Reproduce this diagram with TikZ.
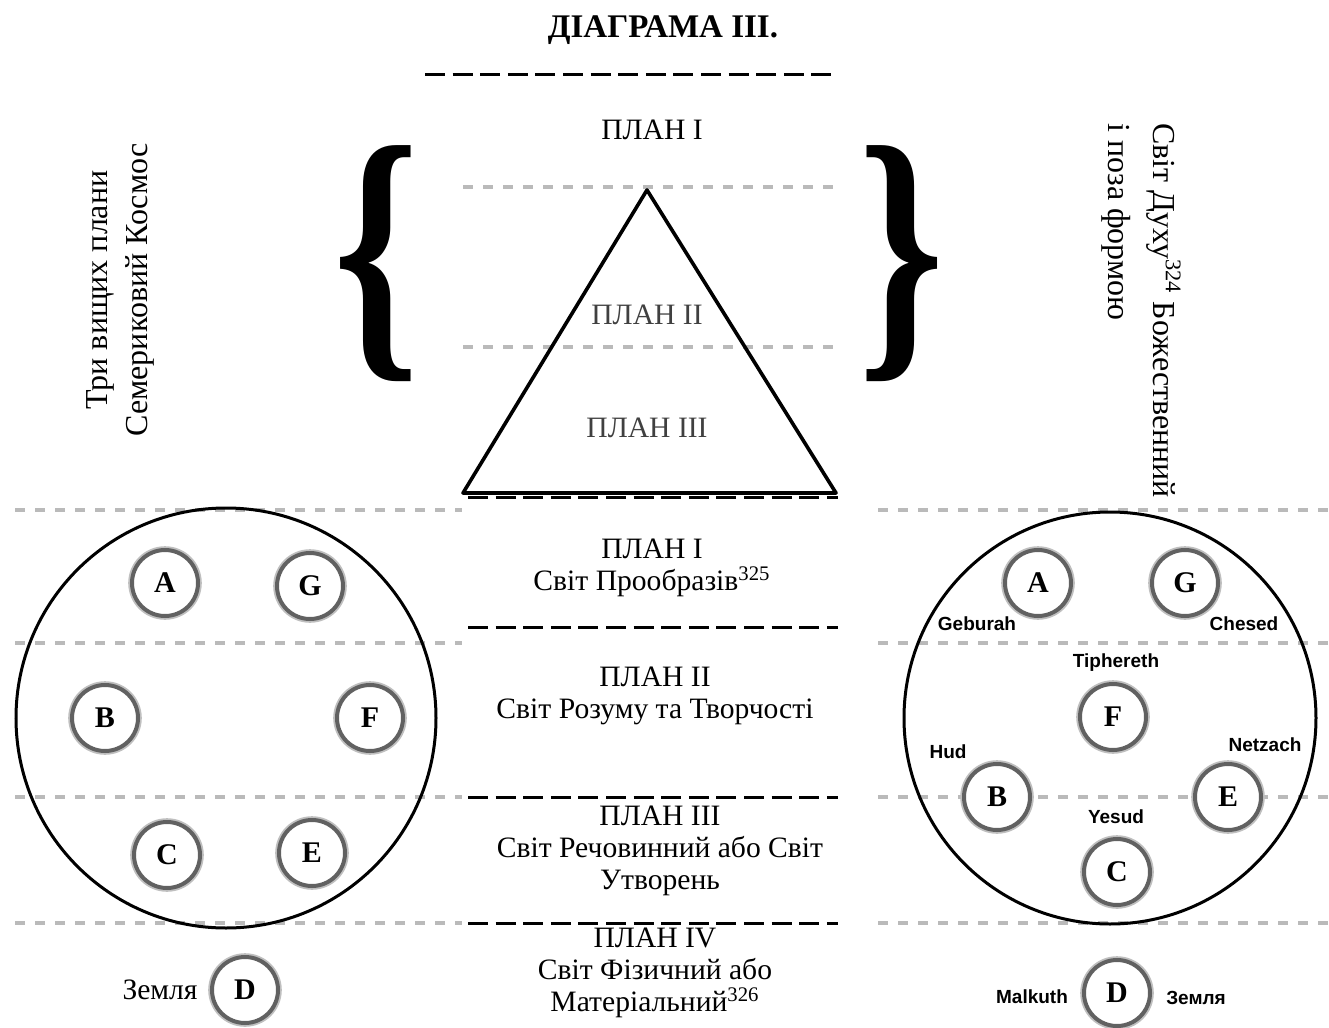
\documentclass[tikz,border=0pt]{standalone}
\usepackage{fontspec}
\setmainfont{Liberation Serif}
\setsansfont{Liberation Sans}
\usepackage{graphicx}
\begin{document}
\begin{tikzpicture}[x=0.5pt,y=-0.5pt,
  txt/.style={inner sep=0pt, align=center, font=\fontsize{14.8}{16}\selectfont},
  lbl/.style={inner sep=0pt, font=\sffamily\bfseries\fontsize{9.5}{11}\selectfont},
  ring/.style={circle, minimum size=33pt, inner sep=0pt, fill=white,
     draw=black!62, line width=2pt,
     preaction={draw=black!25, line width=3.8pt},
     text height=9.8pt, text depth=0pt,
     font=\bfseries\fontsize{15}{15}\selectfont},
  graydash/.style={draw=black!27, line width=1.8pt, dash pattern=on 5pt off 5pt},
  blackdash/.style={draw=black, line width=1.5pt, dash pattern=on 10pt off 3.8pt},
  bigcirc/.style={draw=black, line width=1.5pt},
  bracebox/.style={inner sep=0pt}
]
\useasboundingbox (0,0) rectangle (1329,1028);

% title
\node[inner sep=0pt, font=\bfseries\fontsize{16.5}{18}\selectfont] (title) at (663,30) {ДІАГРАМА ІІІ.};
\coordinate (t1) at (425,74); \coordinate (t2) at (838,74);
\draw[blackdash] (t1) -- (t2);

% gray dashed lines
\coordinate (g1a) at (463,187); \coordinate (g1b) at (838,187);
\coordinate (g2a) at (463,347); \coordinate (g2b) at (838,347);
\draw[graydash] (g1a) -- (g1b);
\draw[graydash] (g2a) -- (g2b);
\foreach \yy/\n in {510/a,643/b,797/c,923/d}{
  \coordinate (L\n1) at (15,\yy); \coordinate (L\n2) at (462,\yy);
  \coordinate (R\n1) at (878,\yy); \coordinate (R\n2) at (1329,\yy);
  \draw[graydash] (L\n1) -- (L\n2);
  \draw[graydash] (R\n1) -- (R\n2);
}

% black dashed lines in middle
\foreach \yy/\n in {497/a,627/b,797/c,923/d}{
  \coordinate (M\n1) at (468,\yy); \coordinate (M\n2) at (838,\yy);
  \draw[blackdash] (M\n1) -- (M\n2);
}

% triangle
\coordinate (apex) at (647,190);
\coordinate (bl) at (463,493);
\coordinate (br) at (836,493);
\draw[line width=1.8pt, line join=round] (apex) -- (br) -- (bl) -- cycle;

% texts top
\node[txt] (pl1top) at (652,130) {ПЛАН І};
\node[txt, text=black!75] (tri2) at (647,315) {ПЛАН ІІ};
\node[txt, text=black!75] (tri3) at (647,428) {ПЛАН ІІІ};

% braces
\node[bracebox] (lbrace) at (377,264) {\resizebox*{43pt}{118pt}{\bfseries\{}};
\node[bracebox] (rbrace) at (902,264) {\resizebox*{43pt}{118pt}{\bfseries\}}};

% rotated texts
\node[rotate=90, align=center, inner sep=0pt, font=\fontsize{16}{20}\selectfont] (lefttxt) at (120,290)
  {Три вищих плани\\Семериковий Космос};
\node[rotate=-90, anchor=west, align=left, inner sep=0pt, font=\fontsize{16}{22.5}\selectfont] (righttxt) at (1141,123)
  {Світ Духу\textsuperscript{324} Божественний\\і поза формою};

% middle texts
\node[txt] (p1) at (652,568) {ПЛАН І\\Світ Прообразів\textsuperscript{325}};
\node[txt] (p2) at (655,696) {ПЛАН ІІ\\Світ Розуму та Творчості};
\node[txt] (p3) at (660,851) {ПЛАН ІІІ\\Світ Речовинний або Світ\\Утворень};
\node[txt] (p4) at (655,973) {ПЛАН IV\\Світ Фізичний або\\Матеріальний\textsuperscript{326}};

% big circles
\node[bigcirc, circle, minimum size=210pt, inner sep=0pt] (lc) at (226,718) {};
\node[bigcirc, circle, minimum size=206pt, inner sep=0pt] (rc) at (1110,718) {};

% left rings
\node[ring] (lA) at (165,583) {A};
\node[ring] (lG) at (310,586) {G};
\node[ring] (lB) at (105,718) {B};
\node[ring] (lF) at (370,718) {F};
\node[ring] (lC) at (167,855) {C};
\node[ring] (lE) at (312,853) {E};
\node[ring] (lD) at (245,990) {D};
\node[txt, anchor=east] (lzem) at (198,990) {Земля};

% right rings
\node[ring] (rA) at (1038,583) {A};
\node[ring] (rG) at (1185,583) {G};
\node[ring] (rF) at (1113,717) {F};
\node[ring] (rB) at (997,797) {B};
\node[ring] (rE) at (1228,797) {E};
\node[ring] (rC) at (1117,872) {C};
\node[ring] (rD) at (1117,993) {D};

\node[lbl] (geb) at (977,624) {Geburah};
\node[lbl] (che) at (1244,624) {Chesed};
\node[lbl] (tip) at (1116,663) {Tiphereth};
\node[lbl] (hud) at (948,752) {Hud};
\node[lbl] (net) at (1265,745) {Netzach};
\node[lbl] (yes) at (1116,817) {Yesud};
\node[lbl] (mal) at (1032,997) {Malkuth};
\node[lbl] (zem) at (1196,998) {Земля};
\end{tikzpicture}
\end{document}
